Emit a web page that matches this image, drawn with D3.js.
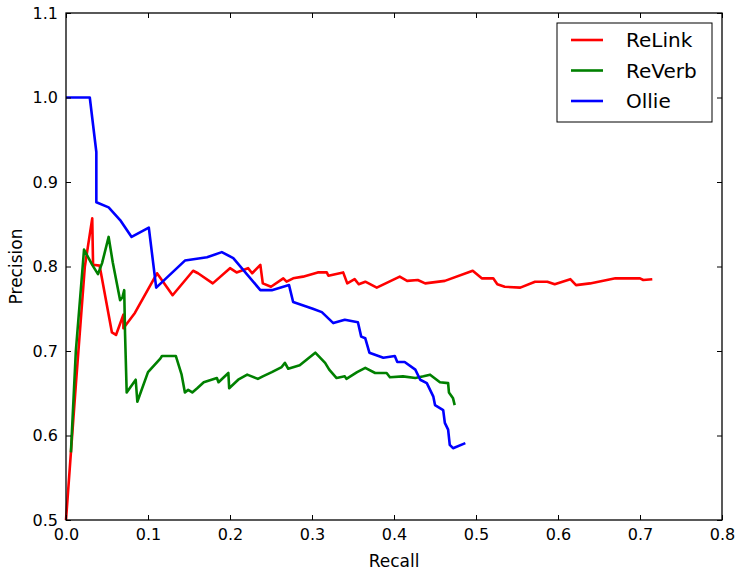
<!DOCTYPE html>
<html>
<head>
<meta charset="utf-8">
<script src="https://cdn.jsdelivr.net/npm/d3@7"></script>
<style>
  body { margin: 0; background: #fff; }
  svg text { font-family: "DejaVu Sans", sans-serif; fill: #000; }
</style>
</head>
<body>
<svg id="chart" width="738" height="577"></svg>
<script>
// Precision / recall curves
const relinkRecall = [0, 0.012, 0.023, 0.032, 0.033, 0.041, 0.056, 0.061, 0.070, 0.070, 0.084, 0.111, 0.130,
  0.155, 0.161, 0.179, 0.200, 0.208, 0.222, 0.227, 0.237, 0.240, 0.250, 0.265, 0.269, 0.277, 0.289, 0.307, 0.318,
  0.320, 0.338, 0.343, 0.352, 0.357, 0.365, 0.379, 0.407, 0.416, 0.429, 0.438, 0.462, 0.496, 0.507, 0.521, 0.526,
  0.535, 0.554, 0.572, 0.587, 0.596, 0.615, 0.622, 0.639, 0.670, 0.700, 0.704, 0.715];
const relinkPrecision = [0.5, 0.66, 0.800, 0.857, 0.802, 0.801, 0.722, 0.719, 0.743, 0.727, 0.745, 0.792, 0.766,
  0.795, 0.792, 0.780, 0.798, 0.793, 0.798, 0.792, 0.802, 0.780, 0.776, 0.786, 0.782, 0.786, 0.788, 0.793, 0.793,
  0.789, 0.793, 0.780, 0.785, 0.779, 0.782, 0.775, 0.788, 0.783, 0.784, 0.780, 0.783, 0.795, 0.786, 0.786, 0.779,
  0.776, 0.775, 0.782, 0.782, 0.779, 0.785, 0.778, 0.780, 0.786, 0.786, 0.784, 0.785];

const reverbRecall = [0.006, 0.012, 0.022, 0.032, 0.039, 0.044, 0.052, 0.057, 0.066, 0.069, 0.071, 0.072, 0.074,
  0.085, 0.087, 0.100, 0.115, 0.117, 0.134, 0.141, 0.145, 0.149, 0.154, 0.160, 0.168, 0.184, 0.186, 0.198, 0.199,
  0.210, 0.221, 0.234, 0.240, 0.251, 0.263, 0.267, 0.271, 0.285, 0.304, 0.316, 0.321, 0.330, 0.340, 0.342, 0.355,
  0.365, 0.377, 0.391, 0.395, 0.411, 0.426, 0.436, 0.444, 0.456, 0.466, 0.467, 0.472, 0.474];
const reverbPrecision = [0.58, 0.70, 0.820, 0.802, 0.791, 0.804, 0.835, 0.805, 0.760, 0.764, 0.772, 0.721, 0.651,
  0.666, 0.640, 0.675, 0.691, 0.694, 0.694, 0.672, 0.651, 0.654, 0.651, 0.656, 0.663, 0.668, 0.663, 0.674, 0.656,
  0.666, 0.672, 0.667, 0.670, 0.675, 0.681, 0.686, 0.679, 0.683, 0.698, 0.686, 0.678, 0.668, 0.670, 0.667, 0.675,
  0.680, 0.674, 0.674, 0.669, 0.670, 0.668, 0.670, 0.672, 0.663, 0.662, 0.651, 0.644, 0.636];

const ollieRecall = [0, 0.029, 0.037, 0.037, 0.052, 0.066, 0.080, 0.101, 0.110, 0.145, 0.172, 0.190, 0.204, 0.237,
  0.251, 0.272, 0.277, 0.301, 0.312, 0.326, 0.340, 0.356, 0.360, 0.365, 0.370, 0.387, 0.401, 0.404, 0.413, 0.426,
  0.432, 0.440, 0.448, 0.450, 0.460, 0.462, 0.466, 0.468, 0.472, 0.487];
const olliePrecision = [1.0, 1.0, 0.9355, 0.876, 0.870, 0.855, 0.835, 0.846, 0.775, 0.807, 0.811, 0.817, 0.810, 0.772,
  0.772, 0.778, 0.758, 0.750, 0.746, 0.733, 0.737, 0.734, 0.717, 0.715, 0.698, 0.692, 0.694, 0.687, 0.687, 0.678,
  0.666, 0.662, 0.646, 0.636, 0.630, 0.615, 0.607, 0.589, 0.585, 0.591];

const seriesNames = ['ReLink', 'ReVerb', 'Ollie'];
const seriesColors = ['#ff0000', '#008000', '#0000ff'];
const xTicks = [0, 0.1, 0.2, 0.3, 0.4, 0.5, 0.6, 0.7, 0.8];
const yTicks = [0.5, 0.6, 0.7, 0.8, 0.9, 1.0, 1.1];

const margin = { top: 13, right: 16, bottom: 57, left: 66 };
const width = 738 - margin.left - margin.right;
const height = 577 - margin.top - margin.bottom;

const svg = d3.select('#chart');
const g = svg.append('g').attr('transform', `translate(${margin.left},${margin.top})`);

const x = d3.scaleLinear().domain([0, 0.8]).range([0, width]);
const y = d3.scaleLinear().domain([0.5, 1.1]).range([height, 0]);

const zip = (xs, ys) => xs.map((v, i) => ({ x: v, y: ys[i] }));
const series = [
  zip(relinkRecall, relinkPrecision),
  zip(reverbRecall, reverbPrecision),
  zip(ollieRecall, olliePrecision)
];

const line = d3.line().x(d => x(d.x)).y(d => y(d.y));

// draw lines in legend order, so Ollie ends up on top
series.forEach((data, i) => {
  g.append('path')
    .attr('d', line(data))
    .attr('fill', 'none')
    .attr('stroke', seriesColors[i])
    .attr('stroke-width', 2.6)
    .attr('stroke-linejoin', 'round');
});

// axes, ticks pointing inward on all four sides
const fmt = d3.format('.1f');
const axBottom = g.append('g').attr('transform', `translate(0,${height})`)
  .call(d3.axisBottom(x).tickValues(xTicks).tickFormat(fmt).tickSizeInner(-5).tickSizeOuter(0).tickPadding(9));
const axTop = g.append('g')
  .call(d3.axisTop(x).tickValues(xTicks).tickFormat('').tickSizeInner(-5).tickSizeOuter(0));
const axLeft = g.append('g')
  .call(d3.axisLeft(y).tickValues(yTicks).tickFormat(fmt).tickSizeInner(-5).tickSizeOuter(0).tickPadding(8));
const axRight = g.append('g').attr('transform', `translate(${width},0)`)
  .call(d3.axisRight(y).tickValues(yTicks).tickFormat('').tickSizeInner(-5).tickSizeOuter(0));

[axBottom, axTop, axLeft, axRight].forEach(ax => {
  ax.select('.domain').remove();
  ax.selectAll('line').attr('stroke', '#000').attr('stroke-width', 1);
  ax.selectAll('text').attr('font-size', 16).attr('font-family', '"DejaVu Sans", sans-serif');
});

g.append('rect')
  .attr('width', width).attr('height', height)
  .attr('fill', 'none').attr('stroke', '#000').attr('stroke-width', 1.3);

// axis labels
svg.append('text')
  .attr('x', margin.left + width / 2).attr('y', 567)
  .attr('text-anchor', 'middle').attr('font-size', 17)
  .text('Recall');
svg.append('text')
  .attr('transform', `translate(22,${margin.top + height / 2}) rotate(-90)`)
  .attr('text-anchor', 'middle').attr('font-size', 17)
  .text('Precision');

// legend
const legend = svg.append('g').attr('transform', 'translate(557,23)');
legend.append('rect')
  .attr('width', 155).attr('height', 99)
  .attr('fill', '#fff').attr('stroke', '#000').attr('stroke-width', 1);
seriesNames.forEach((name, i) => {
  const row = legend.append('g').attr('transform', `translate(0,${17 + i * 30.5})`);
  row.append('line')
    .attr('x1', 14).attr('x2', 46)
    .attr('stroke', seriesColors[i]).attr('stroke-width', 2.6);
  row.append('text')
    .attr('x', 69).attr('y', 7)
    .attr('font-size', 20)
    .text(name);
});
</script>
</body>
</html>
